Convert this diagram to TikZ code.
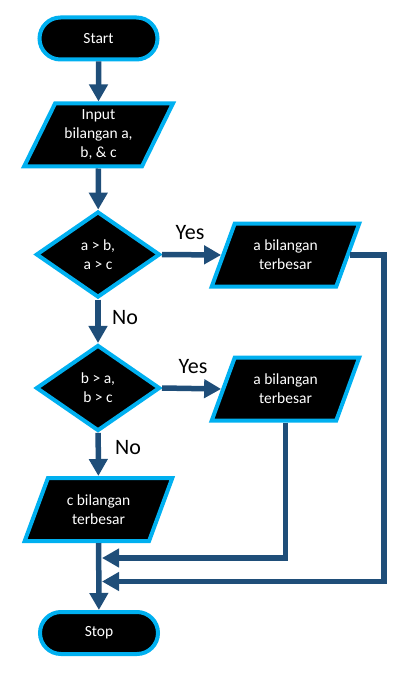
\documentclass[tikz,border=0pt]{standalone}
\usepackage{fontspec}
\setmainfont{Carlito}
\usetikzlibrary{shapes.geometric, arrows.meta}
\definecolor{flowline}{HTML}{1F4E79}
\definecolor{flowedge}{HTML}{00B0F0}

\begin{document}
\begin{tikzpicture}[x=1pt, y=-1pt,
        box/.style={draw=flowedge, line width=4pt, fill=black, text=white,
            align=center, inner sep=0pt,
            font=\fontsize{15.5}{19}\selectfont},
        terminal/.style={box, rectangle, rounded corners=21pt,
            minimum width=118pt, minimum height=42pt},
        iobox/.style={box, trapezium, trapezium left angle=64,
            trapezium right angle=116, trapezium stretches=true,
            minimum width=149pt, minimum height=63pt},
        decision/.style={box, diamond, minimum width=124pt, minimum height=86pt},
        flow/.style={draw=flowline, line width=5.5pt,
            -{Triangle[width=18pt, length=17pt]}},
        answer/.style={font=\fontsize{22}{26}\selectfont}]
        \useasboundingbox (0,0) rectangle (411,679);

        % nodes
        \node[terminal] (start) at (98.5,38.5) {Start};
        \node[iobox] (input) at (98.5,135) {Input\\bilangan a,\\b, \& c};
        \node[decision] (dec1) at (98,254.5) {a > b,\\a > c};
        \node[iobox] (maxa1) at (285.5,255) {a bilangan\\terbesar};
        \node[decision] (dec2) at (98,388) {b > a,\\b > c};
        \node[iobox] (maxa2) at (285.5,389) {a bilangan\\terbesar};
        \node[iobox] (maxc) at (98.5,509.5) {c bilangan\\terbesar};
        \node[terminal] (stop) at (99,633) {Stop};

        % join points
        \coordinate (join1) at (102,558);
        \coordinate (join2) at (102,581.5);
        \coordinate (corner) at (384,581.5);

        % draw diagram
        \draw[flow] (start) -- (input);
        \draw[flow] (input) -- (dec1);
        \draw[flow] (dec1) -- (dec2);
        \draw[flow] (dec2) -- (maxc);
        \draw[flow] (maxc) -- (stop);
        \draw[flow] (dec1.east) -- (maxa1.west);
        \draw[flow] (dec2.east) -- (maxa2.west);
        \draw[flow] (maxa2.south) |- (join1);
        \draw[flow] (maxa1.east) -| (corner) -- (join2);

        % labels
        \node[answer] (yes1) at (190,233) {Yes};
        \node[answer] (no1) at (125,318) {No};
        \node[answer] (yes2) at (193,367) {Yes};
        \node[answer] (no2) at (128,448) {No};
\end{tikzpicture}
\end{document}
